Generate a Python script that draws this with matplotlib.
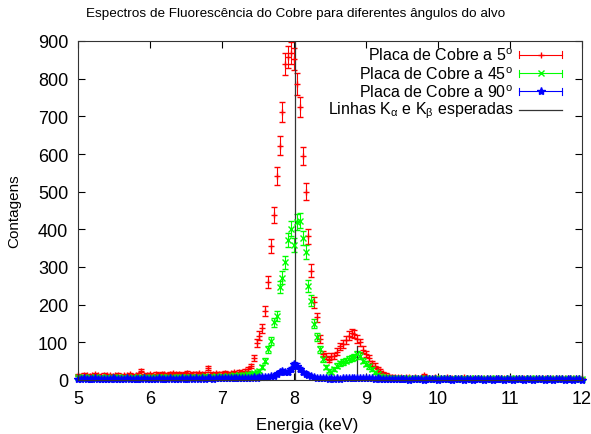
'''
Espectros de fluorescência do cobre (estilo gnuplot)
'''
import numpy as np
from matplotlib import pyplot as plt
from matplotlib.lines import Line2D

# energia dos canais (keV), passo de 0.04
energia = np.round(np.arange(5.0, 12.0001, 0.04), 2)

# contagens
placa_5 = [
    13, 11, 14, 12, 10, 13, 15, 12, 11, 14,
    12, 13, 10, 12, 14, 11, 13, 12, 15, 11,
    12, 14, 25, 13, 14, 15, 13, 16, 14, 17,
    15, 14, 16, 18, 15, 17, 14, 16, 19, 15,
    17, 16, 18, 15, 17, 31, 16, 15, 18, 17,
    16, 19, 17, 18, 20, 17, 22,
    20, 25, 29, 37, 58, 98, 118, 137, 184, 261,
    355, 438, 541, 622, 711, 839, 858, 868, 852, 786,
    724, 595, 500, 381, 290, 206, 166, 110, 69, 63,
    54, 63, 63, 75, 89, 96, 107, 118, 125, 122,
    109, 100, 80, 69, 58, 45, 38, 30, 25, 18,
    14, 10,
    9, 8, 7, 8, 6, 7, 8, 6, 7, 5,
    6, 13, 7, 6, 5, 7, 6, 5, 6, 7,
    5, 6, 4, 6, 5, 7, 5, 6, 4, 5,
    6, 5, 4, 6, 5, 5, 4, 6, 5, 4,
    5, 6, 4, 5, 5, 4, 6, 5, 4, 5,
    4, 5, 6, 4, 5, 4, 5, 4, 6, 5,
    4, 5, 4, 5, 4, 5, 4,
]
placa_45 = [
    7, 6, 8, 6, 7, 5, 7, 6, 8, 6,
    7, 6, 5, 7, 8, 6, 7, 6, 5, 7,
    6, 8, 7, 6, 7, 8, 6, 7, 9, 7,
    8, 7, 6, 8, 7, 9, 8, 7, 8, 9,
    7, 8, 9, 8, 10, 8, 9, 8, 10, 9,
    10, 9, 11, 10, 12, 11, 12,
    13, 14, 15, 16, 18, 20, 25, 34, 51, 82,
    104, 153, 171, 246, 272, 312, 372, 401, 358, 419,
    423, 377, 341, 250, 210, 149, 113, 82, 56, 34,
    25, 20, 29, 38, 45, 48, 51, 55, 58, 62,
    69, 65, 51, 43, 36, 28, 20, 15, 11, 8,
    7, 6,
    5, 6, 4, 5, 4, 5, 3, 4, 5, 4,
    3, 4, 5, 3, 4, 3, 4, 5, 3, 4,
    3, 4, 3, 5, 3, 4, 3, 4, 3, 4,
    3, 4, 3, 3, 4, 3, 4, 3, 3, 4,
    3, 4, 3, 4, 3, 3, 4, 3, 4, 3,
    4, 3, 3, 4, 3, 4, 3, 3, 4, 3,
    3, 4, 3, 3, 4, 3, 3,
]
placa_90 = [
    3, 2, 4, 3, 2, 3, 4, 2, 3, 3,
    2, 3, 4, 3, 2, 3, 3, 4, 2, 3,
    3, 2, 3, 4, 3, 2, 3, 3, 4, 3,
    2, 3, 4, 3, 3, 2, 4, 3, 3, 4,
    3, 4, 3, 4, 3, 4, 4, 3, 5, 4,
    4, 5, 4, 5, 5, 4, 5,
    5, 6, 5, 6, 7, 6, 7, 8, 7, 9,
    10, 11, 16, 20, 25, 22, 20, 29, 42, 38,
    29, 20, 16, 13, 10, 7, 6, 5, 4, 4,
    3, 4, 3, 4, 3, 4, 5, 4, 5, 5,
    6, 5, 5, 4, 5, 4, 3, 4, 3, 3,
    2, 3,
    2, 3, 2, 2, 3, 2, 1, 2, 3, 2,
    2, 1, 2, 3, 2, 2, 1, 2, 2, 3,
    2, 1, 2, 2, 3, 1, 2, 2, 1, 2,
    2, 3, 1, 2, 2, 1, 2, 3, 2, 1,
    2, 2, 1, 2, 3, 2, 1, 2, 2, 1,
    2, 2, 3, 1, 2, 2, 1, 2, 2, 3,
    1, 2, 2, 1, 2, 2, 1,
]

# linhas K esperadas (energia, altura)
linhas_e = [8.01, 8.88]
linhas_h = [1000, 91]

rotulos = [r'Placa de Cobre a 5$^{\mathrm{o}}$',
           r'Placa de Cobre a 45$^{\mathrm{o}}$',
           r'Placa de Cobre a 90$^{\mathrm{o}}$',
           r'Linhas K$_{\mathrm{\alpha}}$ e K$_{\mathrm{\beta}}$ esperadas']
cores = ['#ff0000', '#00ff00', '#0000ff']
marcas = ['+', 'x', '*']
tamanhos = [5, 5, 6]

plt.rcParams['font.family'] = ['Liberation Sans', 'DejaVu Sans']
plt.rcParams['mathtext.fontset'] = 'custom'
plt.rcParams['mathtext.rm'] = 'Liberation Sans'
plt.rcParams['mathtext.it'] = 'Liberation Sans:italic'

fig = plt.figure(figsize=(5.91, 4.35), dpi=100)
ax = fig.add_axes([78 / 591, 1 - 381 / 435, 504 / 591, 339 / 435])

for y, c, m, t in zip([placa_5, placa_45, placa_90], cores, marcas, tamanhos):
    y = np.array(y, dtype=float)
    cont = ax.errorbar(energia, y, yerr=np.sqrt(y), fmt=m, color=c, ms=t, mew=1,
                       elinewidth=0.8, capsize=2.5, capthick=0.8)
    # como no gnuplot, os pontos junto ao eixo não são cortados
    for art in cont.get_children():
        art.set_clip_on(False)

for e, h in zip(linhas_e, linhas_h):
    ax.plot([e, e], [0, h], color='#333333', lw=0.9)

ax.set_xlim(5, 12)
ax.set_ylim(0, 900)
ax.set_xticks(range(5, 13))
ax.set_yticks(range(0, 901, 100))
ax.tick_params(direction='in', length=5, width=0.8, top=True, right=True,
               labelsize=13, pad=7)
for s in ax.spines.values():
    s.set_linewidth(0.8)
    s.set_color('#333333')

ax.set_xlabel('Energia (keV)', fontsize=12)
ax.set_ylabel('Contagens', fontsize=11)
ax.xaxis.set_label_coords(0.454, -0.109)
ax.yaxis.set_label_coords(-0.113, 0.5)
fig.text(0.5, 1 - 14 / 435, 'Espectros de Fluorescência do Cobre para diferentes ângulos do alvo',
         ha='center', va='center', fontsize=9.7)

# legenda à moda do gnuplot
ys = [0.9596, 0.9047, 0.8516, 0.7965]
x0, x1, xm = 0.875, 0.960, 0.918
for i, yy in enumerate(ys):
    ax.text(0.863, yy, rotulos[i], transform=ax.transAxes, ha='right',
            va='center', fontsize=11.5)
    if i < 3:
        ax.add_line(Line2D([x0, x1], [yy, yy], transform=ax.transAxes,
                           color=cores[i], lw=0.8))
        for xx in (x0, x1):
            ax.add_line(Line2D([xx, xx], [yy - 0.011, yy + 0.011],
                               transform=ax.transAxes, color=cores[i], lw=0.8))
        ax.add_line(Line2D([xm], [yy], transform=ax.transAxes, color=cores[i],
                           marker=marcas[i], ms=tamanhos[i], mew=1, ls='none'))
    else:
        ax.add_line(Line2D([x0, x1], [yy, yy], transform=ax.transAxes,
                           color='#333333', lw=0.9))

fig.savefig('out.png', dpi=100)
